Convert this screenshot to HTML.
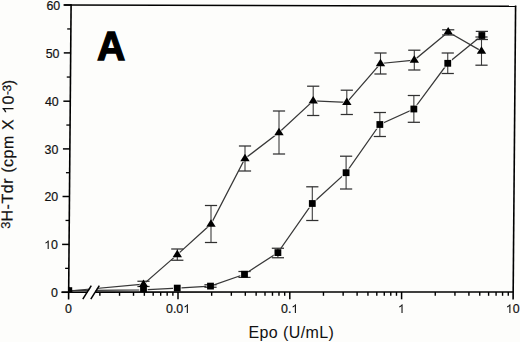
<!DOCTYPE html>
<html><head><meta charset="utf-8"><style>
html,body{margin:0;padding:0;background:#fdfdfb;}
body{width:520px;height:342px;overflow:hidden;position:relative;font-family:"Liberation Sans",sans-serif;}
svg{position:absolute;left:0;top:0;}
</style></head><body>
<svg width="520" height="342" viewBox="0 0 520 342">
<g font-family="Liberation Sans, sans-serif">
<text x="46.407" y="10.000" font-size="12.4" fill="#111" stroke="#111" stroke-width="0.2">6</text>
<text x="53.304" y="10.000" font-size="12.4" fill="#111" stroke="#111" stroke-width="0.2">0</text>
<text x="45.707" y="58.000" font-size="12.4" fill="#111" stroke="#111" stroke-width="0.2">5</text>
<text x="52.604" y="58.000" font-size="12.4" fill="#111" stroke="#111" stroke-width="0.2">0</text>
<text x="44.907" y="106.000" font-size="12.4" fill="#111" stroke="#111" stroke-width="0.2">4</text>
<text x="51.804" y="106.000" font-size="12.4" fill="#111" stroke="#111" stroke-width="0.2">0</text>
<text x="44.507" y="154.100" font-size="12.4" fill="#111" stroke="#111" stroke-width="0.2">3</text>
<text x="51.404" y="154.100" font-size="12.4" fill="#111" stroke="#111" stroke-width="0.2">0</text>
<text x="44.407" y="201.400" font-size="12.4" fill="#111" stroke="#111" stroke-width="0.2">2</text>
<text x="51.304" y="201.400" font-size="12.4" fill="#111" stroke="#111" stroke-width="0.2">0</text>
<path d="M583 0L763 0L763 1409L640 1409L575 1320L470 1215L223 1080L223 905L420 995L583 1120Z" transform="translate(44.107,249.100) scale(0.006055,-0.006055)" fill="#111" stroke="#111" stroke-width="0.2"/>
<text x="51.004" y="249.100" font-size="12.4" fill="#111" stroke="#111" stroke-width="0.2">0</text>
<text x="51.004" y="297.200" font-size="12.4" fill="#111" stroke="#111" stroke-width="0.2">0</text>
<text x="65.052" y="313.300" font-size="12.4" fill="#111" stroke="#111" stroke-width="0.2">0</text>
<text x="166.033" y="312.900" font-size="12.4" fill="#111" stroke="#111" stroke-width="0.2">0</text>
<text x="172.929" y="312.900" font-size="12.4" fill="#111" stroke="#111" stroke-width="0.2">.</text>
<text x="176.374" y="312.900" font-size="12.4" fill="#111" stroke="#111" stroke-width="0.2">0</text>
<path d="M583 0L763 0L763 1409L640 1409L575 1320L470 1215L223 1080L223 905L420 995L583 1120Z" transform="translate(183.271,312.900) scale(0.006055,-0.006055)" fill="#111" stroke="#111" stroke-width="0.2"/>
<text x="280.981" y="312.900" font-size="12.4" fill="#111" stroke="#111" stroke-width="0.2">0</text>
<text x="287.877" y="312.900" font-size="12.4" fill="#111" stroke="#111" stroke-width="0.2">.</text>
<path d="M583 0L763 0L763 1409L640 1409L575 1320L470 1215L223 1080L223 905L420 995L583 1120Z" transform="translate(291.323,312.900) scale(0.006055,-0.006055)" fill="#111" stroke="#111" stroke-width="0.2"/>
<path d="M583 0L763 0L763 1409L640 1409L575 1320L470 1215L223 1080L223 905L420 995L583 1120Z" transform="translate(397.952,312.900) scale(0.006055,-0.006055)" fill="#111" stroke="#111" stroke-width="0.2"/>
<path d="M583 0L763 0L763 1409L640 1409L575 1320L470 1215L223 1080L223 905L420 995L583 1120Z" transform="translate(505.804,312.900) scale(0.006055,-0.006055)" fill="#111" stroke="#111" stroke-width="0.2"/>
<text x="512.700" y="312.900" font-size="12.4" fill="#111" stroke="#111" stroke-width="0.2">0</text>
<text x="291.4" y="337.8" font-size="16" text-anchor="middle" letter-spacing="0.4" fill="#111">Epo (U/mL)</text>
<g transform="matrix(1,0,-0.0087,1,2.54,0)"><g transform="translate(11.9,228.7) rotate(-90)">
<text x="0.000" y="-2.400" font-size="12.8" fill="#111" stroke="#111" stroke-width="0.2">3</text>
<text x="7.219" y="0.000" font-size="16" fill="#111" stroke="#111" stroke-width="0.2">H</text>
<text x="19.323" y="0.000" font-size="16" fill="#111" stroke="#111" stroke-width="0.2">-</text>
<text x="25.202" y="0.000" font-size="16" fill="#111" stroke="#111" stroke-width="0.2">T</text>
<text x="35.525" y="0.000" font-size="16" fill="#111" stroke="#111" stroke-width="0.2">d</text>
<text x="44.973" y="0.000" font-size="16" fill="#111" stroke="#111" stroke-width="0.2">r</text>
<text x="55.847" y="0.000" font-size="16" fill="#111" stroke="#111" stroke-width="0.2">(</text>
<text x="61.725" y="0.000" font-size="16" fill="#111" stroke="#111" stroke-width="0.2">c</text>
<text x="70.275" y="0.000" font-size="16" fill="#111" stroke="#111" stroke-width="0.2">p</text>
<text x="79.723" y="0.000" font-size="16" fill="#111" stroke="#111" stroke-width="0.2">m</text>
<text x="98.597" y="0.000" font-size="16" fill="#111" stroke="#111" stroke-width="0.2">X</text>
<path d="M583 0L763 0L763 1409L640 1409L575 1320L470 1215L223 1080L223 905L420 995L583 1120Z" transform="translate(114.814,0.000) scale(0.007812,-0.007812)" fill="#111" stroke="#111" stroke-width="0.2"/>
<text x="124.262" y="0.000" font-size="16" fill="#111" stroke="#111" stroke-width="0.2">0</text>
<text x="133.711" y="-2.600" font-size="12" fill="#111" stroke="#111" stroke-width="0.2">-</text>
<text x="137.207" y="-2.600" font-size="12" fill="#111" stroke="#111" stroke-width="0.2">3</text>
<text x="143.381" y="0.000" font-size="16" fill="#111" stroke="#111" stroke-width="0.2">)</text>
</g></g>
<text transform="translate(97.1,59.9) scale(0.965,1)" font-size="40.6" font-weight="bold" fill="#000" stroke="#000" stroke-width="1.3">A</text>
</g>
<clipPath id="pa"><polygon points="68.8,0 71.3,0 520,0 520,292 68.6,292"/></clipPath>
<polyline points="68.80,291.00 143.50,284.20 177.30,254.60 211.00,224.00 245.00,158.50 279.00,132.50 313.20,100.85 346.80,102.35 380.50,63.50 414.30,60.10 448.20,31.90 481.50,51.10" fill="none" stroke="#383838" stroke-width="1.25"/>
<polyline points="68.80,290.60 143.50,289.90 177.25,288.10 210.50,286.10 244.50,274.25 277.90,252.60 312.30,203.50 346.10,172.70 379.85,124.50 413.85,109.00 447.75,63.30 481.85,35.50" fill="none" stroke="#383838" stroke-width="1.25"/>
<rect x="139.30" y="285.70" width="8.40" height="8.40" fill="#fdfdfb"/>
<rect x="173.05" y="283.90" width="8.40" height="8.40" fill="#fdfdfb"/>
<rect x="206.30" y="281.90" width="8.40" height="8.40" fill="#fdfdfb"/>
<rect x="240.30" y="270.05" width="8.40" height="8.40" fill="#fdfdfb"/>
<rect x="273.70" y="248.40" width="8.40" height="8.40" fill="#fdfdfb"/>
<rect x="308.10" y="199.30" width="8.40" height="8.40" fill="#fdfdfb"/>
<rect x="341.90" y="168.50" width="8.40" height="8.40" fill="#fdfdfb"/>
<rect x="375.65" y="120.30" width="8.40" height="8.40" fill="#fdfdfb"/>
<rect x="409.65" y="104.80" width="8.40" height="8.40" fill="#fdfdfb"/>
<rect x="443.55" y="59.10" width="8.40" height="8.40" fill="#fdfdfb"/>
<rect x="477.65" y="31.30" width="8.40" height="8.40" fill="#fdfdfb"/>
<polygon points="143.50,278.28 149.16,287.38 137.84,287.38" fill="#fdfdfb"/>
<polygon points="177.30,248.68 182.96,257.78 171.64,257.78" fill="#fdfdfb"/>
<polygon points="211.00,218.08 216.66,227.18 205.34,227.18" fill="#fdfdfb"/>
<polygon points="245.00,152.58 250.66,161.68 239.34,161.68" fill="#fdfdfb"/>
<polygon points="279.00,126.58 284.66,135.68 273.34,135.68" fill="#fdfdfb"/>
<polygon points="313.20,94.93 318.86,104.03 307.54,104.03" fill="#fdfdfb"/>
<polygon points="346.80,96.43 352.46,105.53 341.14,105.53" fill="#fdfdfb"/>
<polygon points="380.50,57.58 386.16,66.68 374.84,66.68" fill="#fdfdfb"/>
<polygon points="414.30,54.18 419.96,63.28 408.64,63.28" fill="#fdfdfb"/>
<polygon points="448.20,25.98 453.86,35.08 442.54,35.08" fill="#fdfdfb"/>
<polygon points="481.50,45.18 487.16,54.28 475.84,54.28" fill="#fdfdfb"/>
<polygon points="83.4,299.5 92.8,284.5 99.4,284.5 90.0,299.5" fill="#fdfdfb"/>
<line x1="143.50" y1="281.25" x2="143.50" y2="286.50" stroke="#3c3c3c" stroke-width="1.1"/>
<line x1="137.40" y1="281.25" x2="149.60" y2="281.25" stroke="#303030" stroke-width="1.25"/>
<line x1="137.40" y1="286.50" x2="149.60" y2="286.50" stroke="#303030" stroke-width="1.25"/>
<line x1="177.30" y1="249.00" x2="177.30" y2="260.25" stroke="#3c3c3c" stroke-width="1.1"/>
<line x1="171.20" y1="249.00" x2="183.40" y2="249.00" stroke="#303030" stroke-width="1.25"/>
<line x1="171.20" y1="260.25" x2="183.40" y2="260.25" stroke="#303030" stroke-width="1.25"/>
<line x1="211.00" y1="205.50" x2="211.00" y2="242.50" stroke="#3c3c3c" stroke-width="1.1"/>
<line x1="204.90" y1="205.50" x2="217.10" y2="205.50" stroke="#303030" stroke-width="1.25"/>
<line x1="204.90" y1="242.50" x2="217.10" y2="242.50" stroke="#303030" stroke-width="1.25"/>
<line x1="245.00" y1="146.00" x2="245.00" y2="171.00" stroke="#3c3c3c" stroke-width="1.1"/>
<line x1="238.90" y1="146.00" x2="251.10" y2="146.00" stroke="#303030" stroke-width="1.25"/>
<line x1="238.90" y1="171.00" x2="251.10" y2="171.00" stroke="#303030" stroke-width="1.25"/>
<line x1="279.00" y1="111.00" x2="279.00" y2="154.00" stroke="#3c3c3c" stroke-width="1.1"/>
<line x1="272.90" y1="111.00" x2="285.10" y2="111.00" stroke="#303030" stroke-width="1.25"/>
<line x1="272.90" y1="154.00" x2="285.10" y2="154.00" stroke="#303030" stroke-width="1.25"/>
<line x1="313.20" y1="86.20" x2="313.20" y2="115.50" stroke="#3c3c3c" stroke-width="1.1"/>
<line x1="307.10" y1="86.20" x2="319.30" y2="86.20" stroke="#303030" stroke-width="1.25"/>
<line x1="307.10" y1="115.50" x2="319.30" y2="115.50" stroke="#303030" stroke-width="1.25"/>
<line x1="346.80" y1="90.20" x2="346.80" y2="114.50" stroke="#3c3c3c" stroke-width="1.1"/>
<line x1="340.70" y1="90.20" x2="352.90" y2="90.20" stroke="#303030" stroke-width="1.25"/>
<line x1="340.70" y1="114.50" x2="352.90" y2="114.50" stroke="#303030" stroke-width="1.25"/>
<line x1="380.50" y1="53.00" x2="380.50" y2="74.00" stroke="#3c3c3c" stroke-width="1.1"/>
<line x1="374.40" y1="53.00" x2="386.60" y2="53.00" stroke="#303030" stroke-width="1.25"/>
<line x1="374.40" y1="74.00" x2="386.60" y2="74.00" stroke="#303030" stroke-width="1.25"/>
<line x1="414.30" y1="50.20" x2="414.30" y2="70.00" stroke="#3c3c3c" stroke-width="1.1"/>
<line x1="408.20" y1="50.20" x2="420.40" y2="50.20" stroke="#303030" stroke-width="1.25"/>
<line x1="408.20" y1="70.00" x2="420.40" y2="70.00" stroke="#303030" stroke-width="1.25"/>
<line x1="448.20" y1="29.80" x2="448.20" y2="35.00" stroke="#3c3c3c" stroke-width="1.1"/>
<line x1="442.10" y1="29.80" x2="454.30" y2="29.80" stroke="#303030" stroke-width="1.25"/>
<line x1="442.10" y1="35.00" x2="454.30" y2="35.00" stroke="#303030" stroke-width="1.25"/>
<line x1="481.50" y1="37.00" x2="481.50" y2="65.20" stroke="#3c3c3c" stroke-width="1.1"/>
<line x1="475.40" y1="37.00" x2="487.60" y2="37.00" stroke="#303030" stroke-width="1.25"/>
<line x1="475.40" y1="65.20" x2="487.60" y2="65.20" stroke="#303030" stroke-width="1.25"/>
<line x1="210.50" y1="284.75" x2="210.50" y2="287.25" stroke="#3c3c3c" stroke-width="1.1"/>
<line x1="204.40" y1="284.75" x2="216.60" y2="284.75" stroke="#303030" stroke-width="1.25"/>
<line x1="204.40" y1="287.25" x2="216.60" y2="287.25" stroke="#303030" stroke-width="1.25"/>
<line x1="244.50" y1="271.50" x2="244.50" y2="277.40" stroke="#3c3c3c" stroke-width="1.1"/>
<line x1="238.40" y1="271.50" x2="250.60" y2="271.50" stroke="#303030" stroke-width="1.25"/>
<line x1="238.40" y1="277.40" x2="250.60" y2="277.40" stroke="#303030" stroke-width="1.25"/>
<line x1="277.90" y1="248.25" x2="277.90" y2="257.75" stroke="#3c3c3c" stroke-width="1.1"/>
<line x1="271.80" y1="248.25" x2="284.00" y2="248.25" stroke="#303030" stroke-width="1.25"/>
<line x1="271.80" y1="257.75" x2="284.00" y2="257.75" stroke="#303030" stroke-width="1.25"/>
<line x1="312.30" y1="186.80" x2="312.30" y2="220.50" stroke="#3c3c3c" stroke-width="1.1"/>
<line x1="306.20" y1="186.80" x2="318.40" y2="186.80" stroke="#303030" stroke-width="1.25"/>
<line x1="306.20" y1="220.50" x2="318.40" y2="220.50" stroke="#303030" stroke-width="1.25"/>
<line x1="346.10" y1="156.20" x2="346.10" y2="189.00" stroke="#3c3c3c" stroke-width="1.1"/>
<line x1="340.00" y1="156.20" x2="352.20" y2="156.20" stroke="#303030" stroke-width="1.25"/>
<line x1="340.00" y1="189.00" x2="352.20" y2="189.00" stroke="#303030" stroke-width="1.25"/>
<line x1="379.85" y1="112.50" x2="379.85" y2="136.50" stroke="#3c3c3c" stroke-width="1.1"/>
<line x1="373.75" y1="112.50" x2="385.95" y2="112.50" stroke="#303030" stroke-width="1.25"/>
<line x1="373.75" y1="136.50" x2="385.95" y2="136.50" stroke="#303030" stroke-width="1.25"/>
<line x1="413.85" y1="95.50" x2="413.85" y2="122.30" stroke="#3c3c3c" stroke-width="1.1"/>
<line x1="407.75" y1="95.50" x2="419.95" y2="95.50" stroke="#303030" stroke-width="1.25"/>
<line x1="407.75" y1="122.30" x2="419.95" y2="122.30" stroke="#303030" stroke-width="1.25"/>
<line x1="447.75" y1="53.00" x2="447.75" y2="73.50" stroke="#3c3c3c" stroke-width="1.1"/>
<line x1="441.65" y1="53.00" x2="453.85" y2="53.00" stroke="#303030" stroke-width="1.25"/>
<line x1="441.65" y1="73.50" x2="453.85" y2="73.50" stroke="#303030" stroke-width="1.25"/>
<line x1="481.85" y1="31.40" x2="481.85" y2="39.50" stroke="#3c3c3c" stroke-width="1.1"/>
<line x1="475.75" y1="31.40" x2="487.95" y2="31.40" stroke="#303030" stroke-width="1.25"/>
<line x1="475.75" y1="39.50" x2="487.95" y2="39.50" stroke="#303030" stroke-width="1.25"/>
<g clip-path="url(#pa)">
<rect x="65.40" y="287.20" width="6.8" height="6.8" fill="#000"/>
<rect x="140.10" y="286.50" width="6.8" height="6.8" fill="#000"/>
<rect x="173.85" y="284.70" width="6.8" height="6.8" fill="#000"/>
<rect x="207.10" y="282.70" width="6.8" height="6.8" fill="#000"/>
<rect x="241.10" y="270.85" width="6.8" height="6.8" fill="#000"/>
<rect x="274.50" y="249.20" width="6.8" height="6.8" fill="#000"/>
<rect x="308.90" y="200.10" width="6.8" height="6.8" fill="#000"/>
<rect x="342.70" y="169.30" width="6.8" height="6.8" fill="#000"/>
<rect x="376.45" y="121.10" width="6.8" height="6.8" fill="#000"/>
<rect x="410.45" y="105.60" width="6.8" height="6.8" fill="#000"/>
<rect x="444.35" y="59.90" width="6.8" height="6.8" fill="#000"/>
<rect x="478.45" y="32.10" width="6.8" height="6.8" fill="#000"/>
<polygon points="68.80,286.20 73.50,293.70 64.10,293.70" fill="#000"/>
<polygon points="143.50,279.40 148.20,286.90 138.80,286.90" fill="#000"/>
<polygon points="177.30,249.80 182.00,257.30 172.60,257.30" fill="#000"/>
<polygon points="211.00,219.20 215.70,226.70 206.30,226.70" fill="#000"/>
<polygon points="245.00,153.70 249.70,161.20 240.30,161.20" fill="#000"/>
<polygon points="279.00,127.70 283.70,135.20 274.30,135.20" fill="#000"/>
<polygon points="313.20,96.05 317.90,103.55 308.50,103.55" fill="#000"/>
<polygon points="346.80,97.55 351.50,105.05 342.10,105.05" fill="#000"/>
<polygon points="380.50,58.70 385.20,66.20 375.80,66.20" fill="#000"/>
<polygon points="414.30,55.30 419.00,62.80 409.60,62.80" fill="#000"/>
<polygon points="448.20,27.10 452.90,34.60 443.50,34.60" fill="#000"/>
<polygon points="481.50,46.30 486.20,53.80 476.80,53.80" fill="#000"/>
</g>
<line x1="71.10" y1="4.30" x2="68.60" y2="299.50" stroke="#000" stroke-width="1.6"/>
<line x1="63.50" y1="5.00" x2="516.20" y2="6.20" stroke="#000" stroke-width="1.6"/>
<line x1="515.60" y1="5.40" x2="513.10" y2="299.50" stroke="#000" stroke-width="1.6"/>
<line x1="61.50" y1="292.20" x2="87.50" y2="292.20" stroke="#000" stroke-width="1.6"/>
<line x1="95.20" y1="292.10" x2="513.50" y2="292.00" stroke="#000" stroke-width="1.6"/>
<line x1="82.80" y1="299.20" x2="91.30" y2="285.60" stroke="#000" stroke-width="1.5"/>
<line x1="90.80" y1="299.20" x2="99.30" y2="285.60" stroke="#000" stroke-width="1.5"/>
<line x1="61.70" y1="292.30" x2="68.70" y2="292.30" stroke="#000" stroke-width="1.5"/>
<line x1="65.11" y1="268.35" x2="68.91" y2="268.35" stroke="#000" stroke-width="1.3"/>
<line x1="62.11" y1="244.40" x2="69.11" y2="244.40" stroke="#000" stroke-width="1.5"/>
<line x1="65.52" y1="220.45" x2="69.32" y2="220.45" stroke="#000" stroke-width="1.3"/>
<line x1="62.53" y1="196.50" x2="69.53" y2="196.50" stroke="#000" stroke-width="1.5"/>
<line x1="65.94" y1="172.70" x2="69.74" y2="172.70" stroke="#000" stroke-width="1.3"/>
<line x1="62.94" y1="148.90" x2="69.94" y2="148.90" stroke="#000" stroke-width="1.5"/>
<line x1="66.35" y1="125.05" x2="70.15" y2="125.05" stroke="#000" stroke-width="1.3"/>
<line x1="63.36" y1="101.20" x2="70.36" y2="101.20" stroke="#000" stroke-width="1.5"/>
<line x1="66.77" y1="77.05" x2="70.57" y2="77.05" stroke="#000" stroke-width="1.3"/>
<line x1="63.78" y1="52.90" x2="70.78" y2="52.90" stroke="#000" stroke-width="1.5"/>
<line x1="67.19" y1="28.95" x2="70.99" y2="28.95" stroke="#000" stroke-width="1.3"/>
<line x1="64.20" y1="5.00" x2="71.20" y2="5.00" stroke="#000" stroke-width="1.5"/>
<line x1="99.86" y1="292.00" x2="99.86" y2="295.80" stroke="#000" stroke-width="1.4"/>
<line x1="119.54" y1="292.00" x2="119.54" y2="295.80" stroke="#000" stroke-width="1.4"/>
<line x1="133.51" y1="292.00" x2="133.51" y2="295.80" stroke="#000" stroke-width="1.4"/>
<line x1="144.34" y1="292.00" x2="144.34" y2="295.80" stroke="#000" stroke-width="1.4"/>
<line x1="153.20" y1="292.00" x2="153.20" y2="295.80" stroke="#000" stroke-width="1.4"/>
<line x1="160.68" y1="292.00" x2="160.68" y2="295.80" stroke="#000" stroke-width="1.4"/>
<line x1="167.17" y1="292.00" x2="167.17" y2="295.80" stroke="#000" stroke-width="1.4"/>
<line x1="172.88" y1="292.00" x2="172.88" y2="295.80" stroke="#000" stroke-width="1.4"/>
<line x1="211.66" y1="292.00" x2="211.66" y2="295.80" stroke="#000" stroke-width="1.4"/>
<line x1="231.34" y1="292.00" x2="231.34" y2="295.80" stroke="#000" stroke-width="1.4"/>
<line x1="245.31" y1="292.00" x2="245.31" y2="295.80" stroke="#000" stroke-width="1.4"/>
<line x1="256.14" y1="292.00" x2="256.14" y2="295.80" stroke="#000" stroke-width="1.4"/>
<line x1="265.00" y1="292.00" x2="265.00" y2="295.80" stroke="#000" stroke-width="1.4"/>
<line x1="272.48" y1="292.00" x2="272.48" y2="295.80" stroke="#000" stroke-width="1.4"/>
<line x1="278.97" y1="292.00" x2="278.97" y2="295.80" stroke="#000" stroke-width="1.4"/>
<line x1="284.68" y1="292.00" x2="284.68" y2="295.80" stroke="#000" stroke-width="1.4"/>
<line x1="323.46" y1="292.00" x2="323.46" y2="295.80" stroke="#000" stroke-width="1.4"/>
<line x1="343.14" y1="292.00" x2="343.14" y2="295.80" stroke="#000" stroke-width="1.4"/>
<line x1="357.11" y1="292.00" x2="357.11" y2="295.80" stroke="#000" stroke-width="1.4"/>
<line x1="367.94" y1="292.00" x2="367.94" y2="295.80" stroke="#000" stroke-width="1.4"/>
<line x1="376.80" y1="292.00" x2="376.80" y2="295.80" stroke="#000" stroke-width="1.4"/>
<line x1="384.28" y1="292.00" x2="384.28" y2="295.80" stroke="#000" stroke-width="1.4"/>
<line x1="390.77" y1="292.00" x2="390.77" y2="295.80" stroke="#000" stroke-width="1.4"/>
<line x1="396.48" y1="292.00" x2="396.48" y2="295.80" stroke="#000" stroke-width="1.4"/>
<line x1="435.26" y1="292.00" x2="435.26" y2="295.80" stroke="#000" stroke-width="1.4"/>
<line x1="454.94" y1="292.00" x2="454.94" y2="295.80" stroke="#000" stroke-width="1.4"/>
<line x1="468.91" y1="292.00" x2="468.91" y2="295.80" stroke="#000" stroke-width="1.4"/>
<line x1="479.74" y1="292.00" x2="479.74" y2="295.80" stroke="#000" stroke-width="1.4"/>
<line x1="488.60" y1="292.00" x2="488.60" y2="295.80" stroke="#000" stroke-width="1.4"/>
<line x1="496.08" y1="292.00" x2="496.08" y2="295.80" stroke="#000" stroke-width="1.4"/>
<line x1="502.57" y1="292.00" x2="502.57" y2="295.80" stroke="#000" stroke-width="1.4"/>
<line x1="508.28" y1="292.00" x2="508.28" y2="295.80" stroke="#000" stroke-width="1.4"/>
<line x1="178.00" y1="292.00" x2="178.00" y2="299.30" stroke="#000" stroke-width="1.5"/>
<line x1="289.80" y1="292.00" x2="289.80" y2="299.30" stroke="#000" stroke-width="1.5"/>
<line x1="401.60" y1="292.00" x2="401.60" y2="299.30" stroke="#000" stroke-width="1.5"/>
</svg>
</body></html>
